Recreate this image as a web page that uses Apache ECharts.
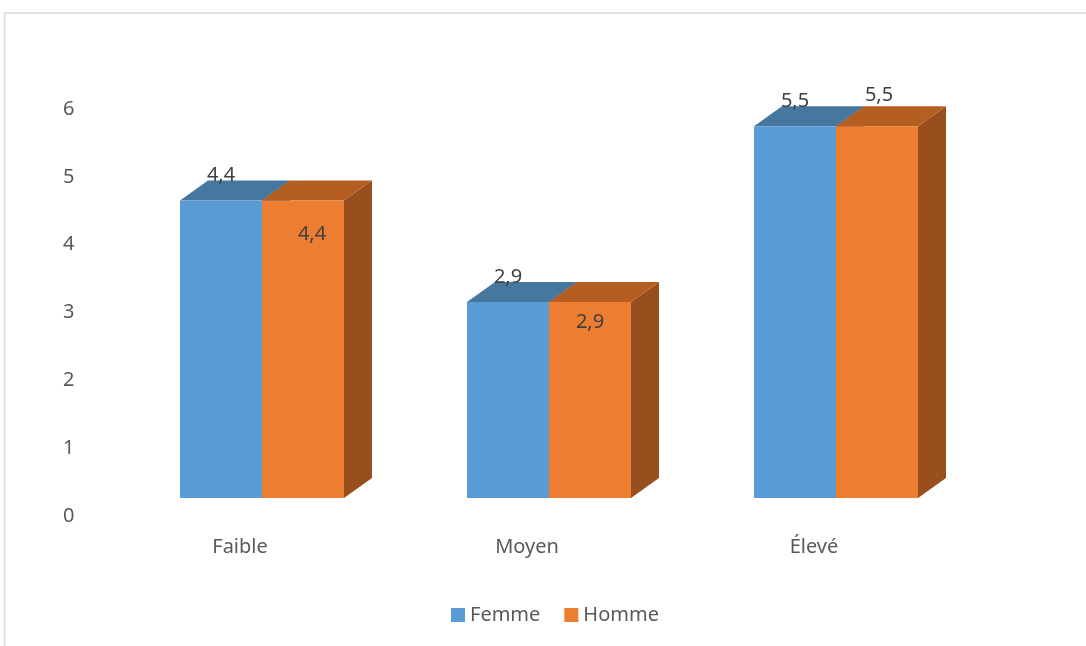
<!DOCTYPE html>
<html>
<head>
<meta charset="utf-8">
<script src="https://cdn.jsdelivr.net/npm/echarts@6/dist/echarts.min.js"></script>
<style>
html,body{margin:0;padding:0;background:#fff;}
#chart{width:1086px;height:646px;}
</style>
</head>
<body>
<div id="chart"></div>
<script>
// ---- data ----
const categories = ['Faible', 'Moyen', 'Élevé'];
const femme = [4.4, 2.9, 5.5];
const homme = [4.4, 2.9, 5.5];
const seriesNames = ['Femme', 'Homme'];
const yMin = 0, yMax = 6, yInterval = 1;

// ---- style ----
const FONT = 'Noto Sans';
const faces = [
  { front: '#5B9BD5', top: '#46779F', side: '#3E6A93' },
  { front: '#ED7D31', top: '#B55E22', side: '#994F1D' }
];
const DX = 28, DY = -20;            // 3D depth offset
const BAR_FRAC = 82 / 287;          // front width relative to category band
// manual data-label placement (relative to front face centre / top edge)
const labelPlace = [
  [[0, -25], [0, -25], [0, -25]],
  [[9, 34], [0, 20], [2, -31]]
];

function makeRender(sIdx) {
  return function (params, api) {
    const ci = api.value(0);
    const v = api.value(1);
    const top = api.coord([ci, v]);
    const bot = api.coord([ci, 0]);
    const band = api.size([1, 0])[0];
    const w = band * BAR_FRAC;
    const x0 = top[0] - w + sIdx * w;
    const x1 = x0 + w;
    const yt = top[1], yb = bot[1];
    const f = faces[sIdx];
    const off = labelPlace[sIdx][params.dataIndex];
    return {
      type: 'group',
      children: [
        { type: 'polygon', shape: { points: [[x1, yt], [x1 + DX, yt + DY], [x1 + DX, yb + DY], [x1, yb]] }, style: { fill: f.side } },
        { type: 'polygon', shape: { points: [[x0, yt], [x1, yt], [x1 + DX, yt + DY], [x0 + DX, yt + DY]] }, style: { fill: f.top } },
        { type: 'rect', shape: { x: x0, y: yt, width: w, height: yb - yt }, style: { fill: f.front } },
        { type: 'text', z2: 10, style: {
            text: String(v).replace('.', ','),
            x: (x0 + x1) / 2 + off[0], y: yt + off[1],
            align: 'center', verticalAlign: 'middle',
            fill: '#404040', font: '20px "' + FONT + '"'
        } }
      ]
    };
  };
}

const chart = echarts.init(document.getElementById('chart'));
const option = {
  backgroundColor: '#ffffff',
  animation: false,
  textStyle: { fontFamily: FONT },
  graphic: [{
    type: 'rect', silent: true, z: -10,
    shape: { x: 4.5, y: 13, width: 1200, height: 800 },
    style: { fill: 'none', stroke: '#d9d9d9', lineWidth: 1.5 }
  }],
  legend: {
    data: seriesNames,
    left: 446, top: 600,
    icon: 'rect', itemWidth: 14, itemHeight: 14, itemGap: 24,
    textStyle: { color: '#595959', fontSize: 20, fontFamily: FONT }
  },
  grid: [
    { left: 118.5, right: 106.5, top: 92.4, bottom: 148 },
    { left: 96.5, right: 128.5, top: 109, bottom: 130 }
  ],
  xAxis: [
    { type: 'category', gridIndex: 0, data: categories, show: false },
    { type: 'category', gridIndex: 1, data: categories,
      axisLine: { show: false }, axisTick: { show: false },
      axisLabel: { color: '#595959', fontSize: 20, fontFamily: FONT, margin: 21 } }
  ],
  yAxis: [
    { type: 'value', gridIndex: 0, min: yMin, max: yMax, interval: yInterval, show: false },
    { type: 'value', gridIndex: 1, min: yMin, max: yMax, interval: yInterval,
      axisLine: { show: false }, axisTick: { show: false }, splitLine: { show: false },
      axisLabel: { color: '#595959', fontSize: 20, fontFamily: FONT, margin: 22 } }
  ],
  series: [
    { name: seriesNames[0], type: 'custom', xAxisIndex: 0, yAxisIndex: 0,
      itemStyle: { color: faces[0].front }, encode: { x: 0, y: 1 },
      renderItem: makeRender(0), data: femme.map((v, i) => [i, v]) },
    { name: seriesNames[1], type: 'custom', xAxisIndex: 0, yAxisIndex: 0,
      itemStyle: { color: faces[1].front }, encode: { x: 0, y: 1 },
      renderItem: makeRender(1), data: homme.map((v, i) => [i, v]) },
    // empty series so the label grid is used
    { type: 'line', xAxisIndex: 1, yAxisIndex: 1, data: [], silent: true }
  ]
};
chart.setOption(option);
</script>
</body>
</html>
